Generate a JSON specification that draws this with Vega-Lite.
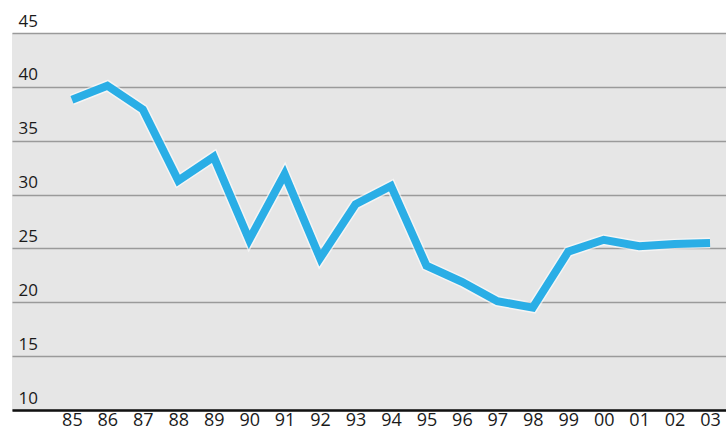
{
  "$schema": "https://vega.github.io/schema/vega-lite/v6.json",
  "autosize": "none",
  "width": 714,
  "height": 377,
  "padding": {"left": 12, "top": 33, "right": 0, "bottom": 32},
  "background": "white",
  "config": {
    "view": {"fill": "#e6e6e6", "stroke": null},
    "font": "Open Sans"
  },
  "data": {
    "values": [
      {"year": 1985, "value": 38.8},
      {"year": 1986, "value": 40.1},
      {"year": 1987, "value": 37.9},
      {"year": 1988, "value": 31.3},
      {"year": 1989, "value": 33.5},
      {"year": 1990, "value": 25.8},
      {"year": 1991, "value": 31.9},
      {"year": 1992, "value": 24.1},
      {"year": 1993, "value": 29.1},
      {"year": 1994, "value": 30.8},
      {"year": 1995, "value": 23.4},
      {"year": 1996, "value": 21.9},
      {"year": 1997, "value": 20.1},
      {"year": 1998, "value": 19.5},
      {"year": 1999, "value": 24.7},
      {"year": 2000, "value": 25.8},
      {"year": 2001, "value": 25.2},
      {"year": 2002, "value": 25.4},
      {"year": 2003, "value": 25.5}
    ]
  },
  "encoding": {
    "x": {
      "field": "year",
      "type": "quantitative",
      "scale": {"domain": [1983.31, 2003.45], "nice": false, "zero": false},
      "axis": {
        "title": null,
        "values": [1985,1986,1987,1988,1989,1990,1991,1992,1993,1994,1995,1996,1997,1998,1999,2000,2001,2002,2003],
        "labelExpr": "slice(toString(datum.value), 2)",
        "grid": false,
        "ticks": false,
        "domainColor": "#111111",
        "domainWidth": 2.5,
        "labelFontSize": 18,
        "labelColor": "#1a1a1a",
        "labelPadding": 1,
        "labelFlush": false,
        "labelOverlap": false
      }
    },
    "y": {
      "field": "value",
      "type": "quantitative",
      "scale": {"domain": [10, 45], "nice": false, "zero": false},
      "axis": {
        "title": null,
        "values": [10, 15, 20, 25, 30, 35, 40, 45],
        "grid": true,
        "gridColor": "#9a9a9a",
        "gridWidth": 1.5,
        "domain": false,
        "ticks": false,
        "tickSize": 0,
        "labelAlign": "left",
        "labelBaseline": "bottom",
        "labelPadding": -6,
        "labelOffset": -3,
        "labelFontSize": 17,
        "labelColor": "#1a1a1a",
        "labelFlush": false,
        "labelOverlap": false
      }
    }
  },
  "layer": [
    {
      "mark": {"type": "line", "color": "#ffffff", "strokeWidth": 11, "opacity": 0.6, "strokeJoin": "miter", "strokeCap": "butt"}
    },
    {
      "mark": {"type": "line", "color": "#2aaee6", "strokeWidth": 8, "strokeJoin": "miter", "strokeCap": "butt"}
    }
  ]
}
